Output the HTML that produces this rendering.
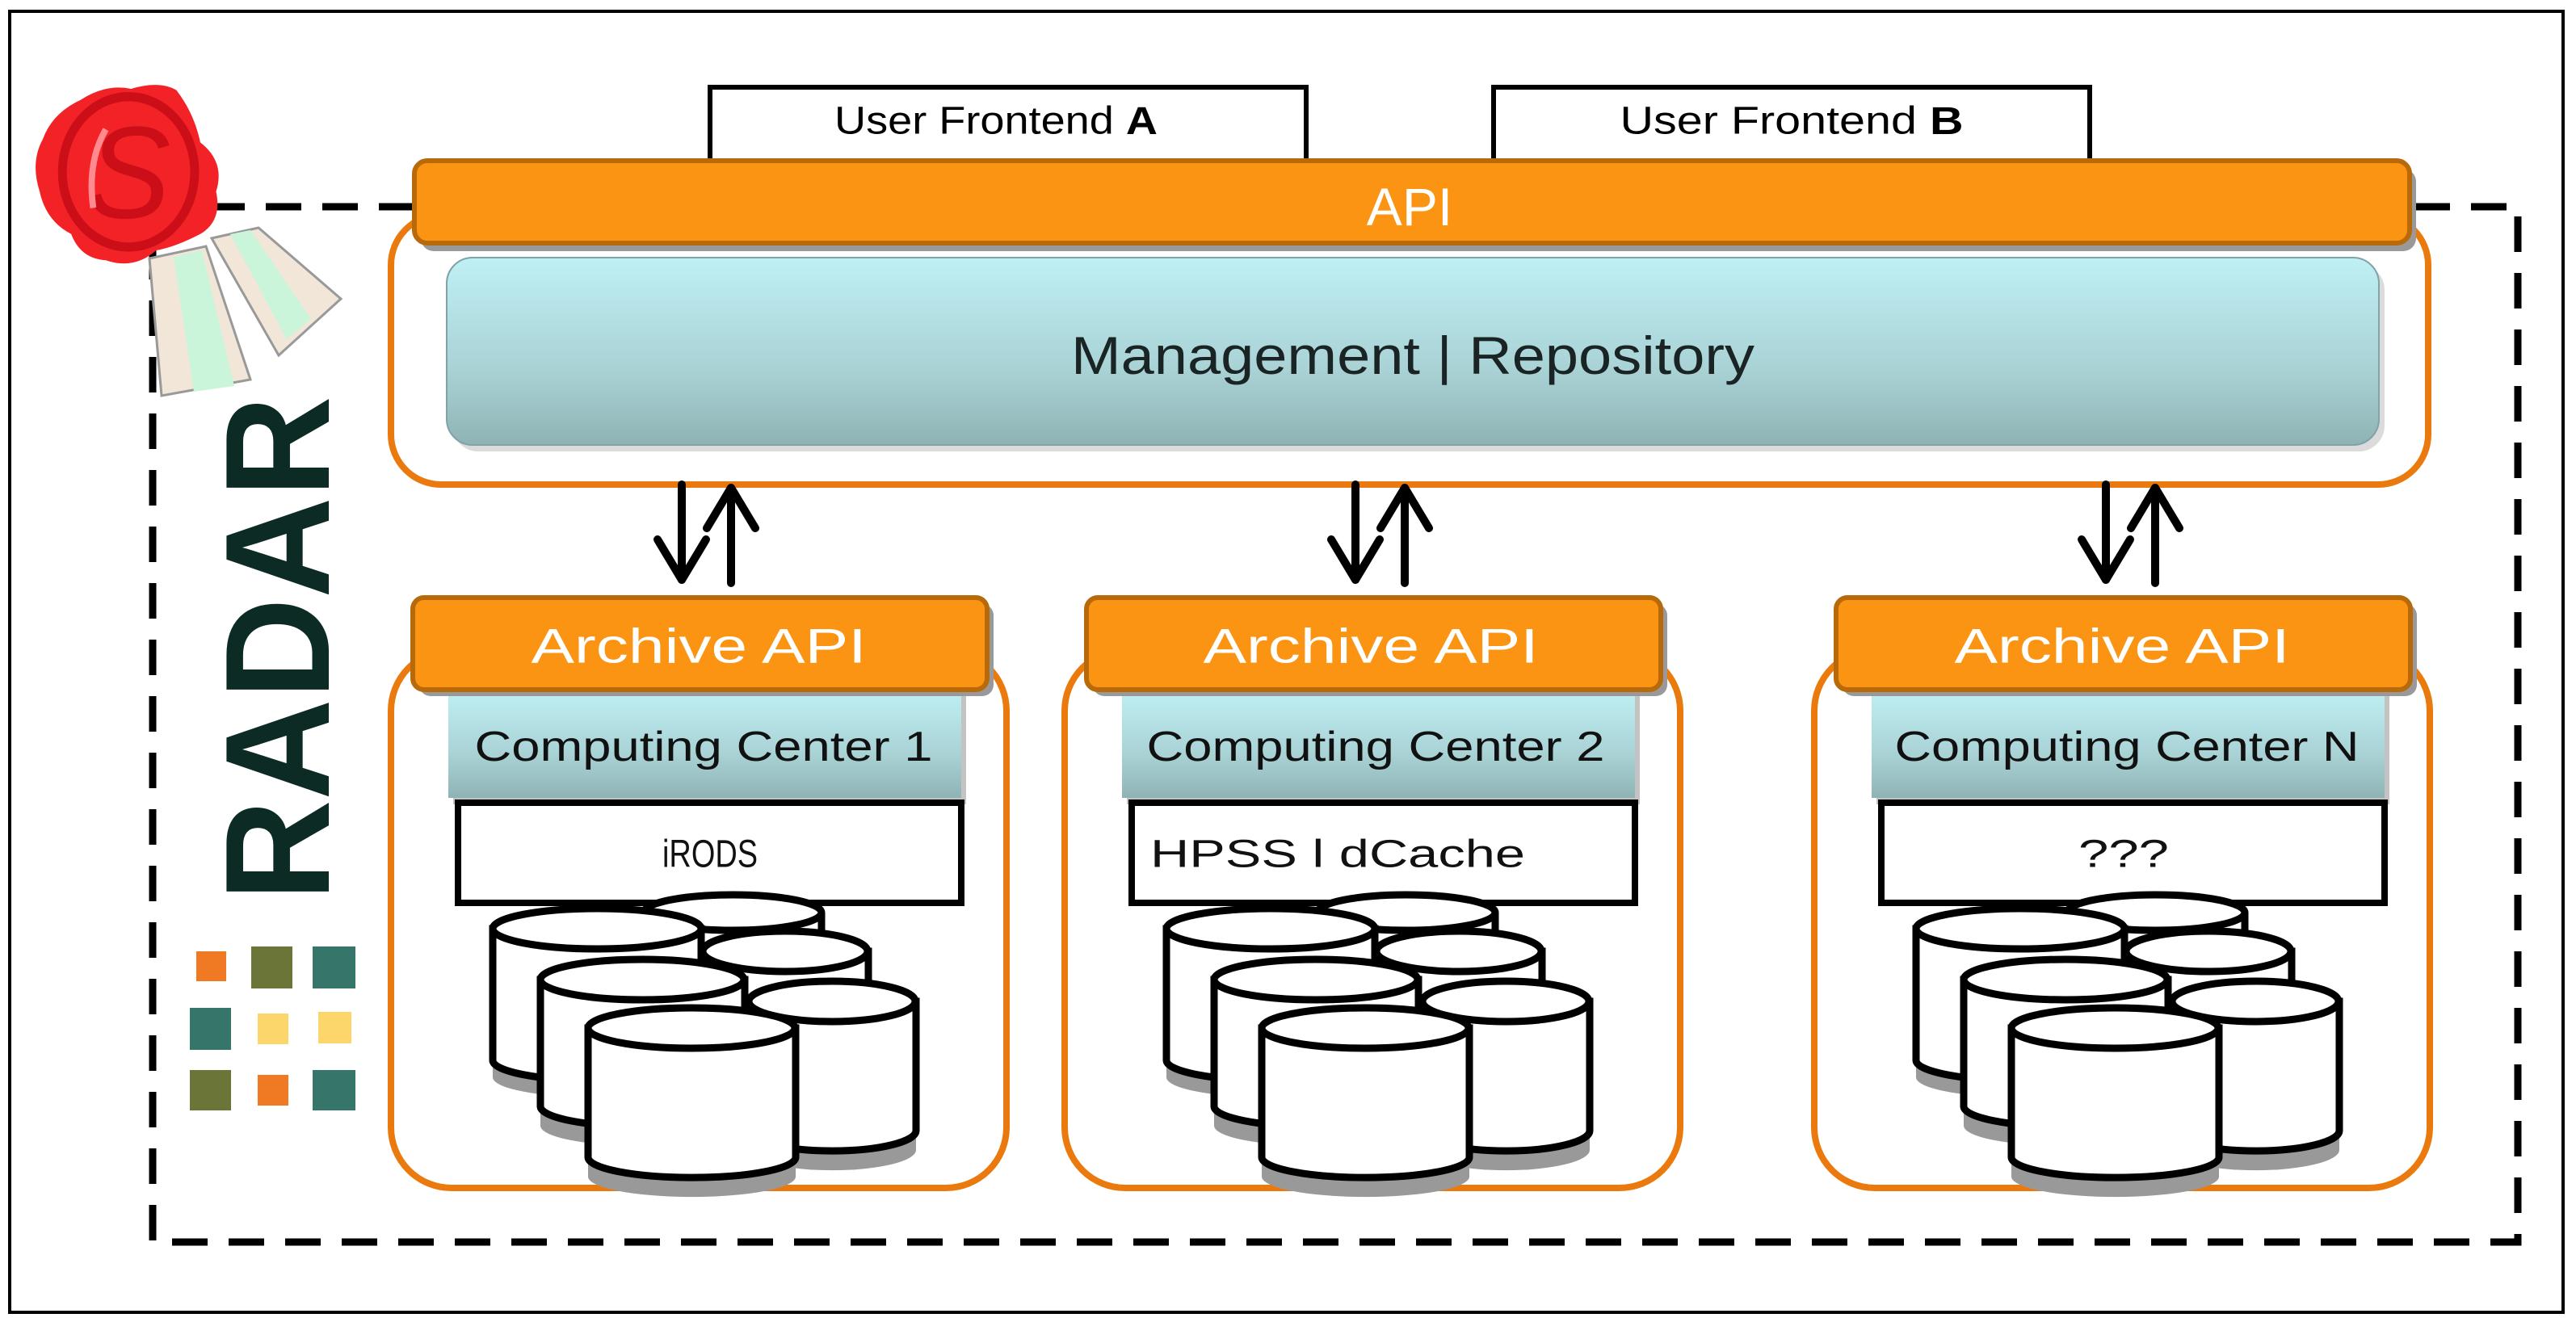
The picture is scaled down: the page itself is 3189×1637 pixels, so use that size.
<!DOCTYPE html>
<html><head><meta charset="utf-8"><style>
html,body{margin:0;padding:0;background:#fff}
svg{display:block}
text{font-family:"Liberation Sans",sans-serif}
</style></head><body>
<svg width="3189" height="1637" viewBox="0 0 3189 1637" xmlns="http://www.w3.org/2000/svg">
<defs>
<linearGradient id="cy" x1="0" y1="0" x2="0" y2="1">
<stop offset="0" stop-color="#bff0f4"/><stop offset="0.6" stop-color="#a9d2d5"/><stop offset="1" stop-color="#8fb3b5"/>
</linearGradient>
</defs>
<rect x="0" y="0" width="3189" height="1637" fill="#fff"/>
<rect x="12" y="14" width="3161" height="1611" fill="none" stroke="#000" stroke-width="4"/>

<rect x="189" y="256" width="2928" height="1282" fill="none" stroke="#000" stroke-width="9" stroke-dasharray="44 26"/>

<rect x="879" y="108" width="738" height="99" fill="#fff" stroke="#000" stroke-width="6"/>
<text x="1233" y="150" font-size="48" text-anchor="middle" dominant-baseline="central" textLength="400" lengthAdjust="spacingAndGlyphs">User Frontend <tspan font-weight="bold">A</tspan></text>
<rect x="1849" y="108" width="738" height="99" fill="#fff" stroke="#000" stroke-width="6"/>
<text x="2218" y="150" font-size="48" text-anchor="middle" dominant-baseline="central" textLength="425" lengthAdjust="spacingAndGlyphs">User Frontend <tspan font-weight="bold">B</tspan></text>

<rect x="484" y="266" width="2522" height="334" rx="62" fill="#fff" stroke="#ea7a0e" stroke-width="8"/>
<rect x="521" y="209" width="2470" height="102" rx="16" fill="#999"/>
<rect x="513" y="199" width="2470" height="102" rx="16" fill="#fb9412" stroke="#b86a0a" stroke-width="6"/>
<text x="1745" y="256" font-size="66" fill="#fff" text-anchor="middle" dominant-baseline="central">API</text>
<rect x="560" y="327" width="2392" height="232" rx="32" fill="#ccc" opacity="0.7"/>
<rect x="553" y="319" width="2392" height="232" rx="32" fill="url(#cy)" stroke="#7fa3a6" stroke-width="2"/>
<text x="1749" y="440" font-size="66" fill="#1a2424" text-anchor="middle" dominant-baseline="central" textLength="846" lengthAdjust="spacingAndGlyphs">Management | Repository</text>

<g stroke="#000" stroke-width="10" fill="none" stroke-linecap="round" stroke-linejoin="round">
<g id="arr">
<line x1="844" y1="600" x2="844" y2="718"/><polyline points="814,668 844,718 874,668"/>
<line x1="905" y1="722" x2="905" y2="604"/><polyline points="875,654 905,604 935,654"/>
</g>
<use href="#arr" x="834"/>
<use href="#arr" x="1763"/>
</g>

<g id="col">
<rect x="484" y="805" width="762" height="666" rx="75" fill="#fff" stroke="#ea7a0e" stroke-width="8"/>
<rect x="561" y="862" width="635" height="134" fill="#888" opacity="0.5"/>
<rect x="555" y="854" width="635" height="134" fill="url(#cy)"/>
<rect x="519" y="748" width="711" height="114" rx="14" fill="#999"/>
<rect x="511" y="740" width="711" height="114" rx="14" fill="#fb9412" stroke="#b86a0a" stroke-width="6"/>
<rect x="567" y="994" width="623" height="124" fill="#fff" stroke="#000" stroke-width="8"/>
<g stroke="#000" stroke-width="9" fill="#fff">
 <path d="M797,1130 L797,1290 A110,25 0 0 0 1017,1290 L1017,1130" fill="#fff"/>
 <ellipse cx="907" cy="1130" rx="110" ry="22"/>
 <path d="M610,1150 L610,1322 A129,25 0 0 0 868,1322 L868,1150" fill="#999" stroke="none" transform="translate(0,12)"/>
 <path d="M610,1150 L610,1313 A129,25 0 0 0 868,1313 L868,1150 Z"/>
 <ellipse cx="739" cy="1150" rx="129" ry="25"/>
 <path d="M870,1178 L870,1350 A102,25 0 0 0 1075,1350 L1075,1178 Z"/>
 <ellipse cx="972" cy="1178" rx="102" ry="25"/>
 <path d="M669,1213 L669,1382 A126,25 0 0 0 922,1382 L922,1213" fill="#999" stroke="none" transform="translate(0,12)"/>
 <path d="M669,1213 L669,1370 A126,25 0 0 0 922,1370 L922,1213 Z"/>
 <ellipse cx="795" cy="1213" rx="126" ry="25"/>
 <path d="M927,1240 L927,1412 A103,25 0 0 0 1134,1412 L1134,1240" fill="#999" stroke="none" transform="translate(0,12)"/>
 <path d="M927,1240 L927,1400 A103,25 0 0 0 1134,1400 L1134,1240 Z"/>
 <ellipse cx="1030" cy="1240" rx="103" ry="25"/>
 <path d="M728,1273 L728,1445 A128,25 0 0 0 985,1445 L985,1273" fill="#999" stroke="none" transform="translate(0,12)"/>
 <path d="M728,1273 L728,1433 A128,25 0 0 0 985,1433 L985,1273 Z"/>
 <ellipse cx="856" cy="1273" rx="128" ry="25"/>
</g>
</g>
<use href="#col" x="834"/>
<use href="#col" x="1762"/>

<g font-size="60" fill="#fff" text-anchor="middle" dominant-baseline="central">
<text x="865" y="800" textLength="415" lengthAdjust="spacingAndGlyphs">Archive API</text>
<text x="1697" y="800" textLength="415" lengthAdjust="spacingAndGlyphs">Archive API</text>
<text x="2627" y="800" textLength="415" lengthAdjust="spacingAndGlyphs">Archive API</text>
</g>
<g font-size="52" fill="#111" text-anchor="middle" dominant-baseline="central">
<text x="871" y="925" textLength="567" lengthAdjust="spacingAndGlyphs">Computing Center 1</text>
<text x="1703" y="925" textLength="567" lengthAdjust="spacingAndGlyphs">Computing Center 2</text>
<text x="2633" y="925" textLength="575" lengthAdjust="spacingAndGlyphs">Computing Center N</text>
</g>
<g font-size="48" fill="#111" text-anchor="middle" dominant-baseline="central">
<text x="879" y="1058" textLength="118" lengthAdjust="spacingAndGlyphs">iRODS</text>
<text x="1656" y="1058" textLength="464" lengthAdjust="spacingAndGlyphs">HPSS l dCache</text>
<text x="2629" y="1058" textLength="112" lengthAdjust="spacingAndGlyphs">???</text>
</g>

<text x="407" y="803" font-size="184" font-weight="bold" fill="#0b2b24" text-anchor="middle" transform="rotate(-90 407 803)" textLength="625" lengthAdjust="spacingAndGlyphs">RADAR</text>

<rect x="243" y="1178" width="37" height="37" fill="#f07923"/>
<rect x="311" y="1172" width="51" height="52" fill="#6a7537"/>
<rect x="387" y="1172" width="53" height="52" fill="#35756a"/>
<rect x="235" y="1248" width="51" height="52" fill="#35756a"/>
<rect x="319" y="1255" width="38" height="38" fill="#fcd66a"/>
<rect x="394" y="1253" width="41" height="39" fill="#fcd66a"/>
<rect x="235" y="1325" width="51" height="50" fill="#6a7537"/>
<rect x="319" y="1331" width="38" height="38" fill="#f07923"/>
<rect x="387" y="1325" width="53" height="50" fill="#35756a"/>

<polygon points="185,320 255,305 310,470 200,490" fill="#f1e6d7" stroke="#999" stroke-width="3"/>
<polygon points="215,318 250,310 290,478 240,485" fill="#cbf5da"/>
<polygon points="262,295 320,282 422,370 345,440" fill="#f1e6d7" stroke="#999" stroke-width="3"/>
<polygon points="285,290 310,285 385,395 355,420" fill="#cbf5da"/>
<g transform="translate(14,63) scale(0.78,0.81)">
<path d="M110,75 Q150,50 190,58 Q235,45 262,60 Q290,95 300,140 Q340,170 325,215 Q335,260 300,280 Q260,300 230,305 Q195,335 150,320 Q110,318 95,280 Q55,260 45,215 Q30,170 50,135 Q65,95 110,75 Z" fill="#f22227"/>
<ellipse cx="186" cy="185" rx="105" ry="115" fill="none" stroke="#cb0e17" stroke-width="14"/>
<text x="186" y="255" font-size="200" font-family="Liberation Serif, serif" font-style="italic" fill="#cb0e17" text-anchor="middle">S</text>
<path d="M150,120 Q120,170 130,240" stroke="#ff8a90" stroke-width="10" fill="none"/>
</g>
</svg>
</body></html>
